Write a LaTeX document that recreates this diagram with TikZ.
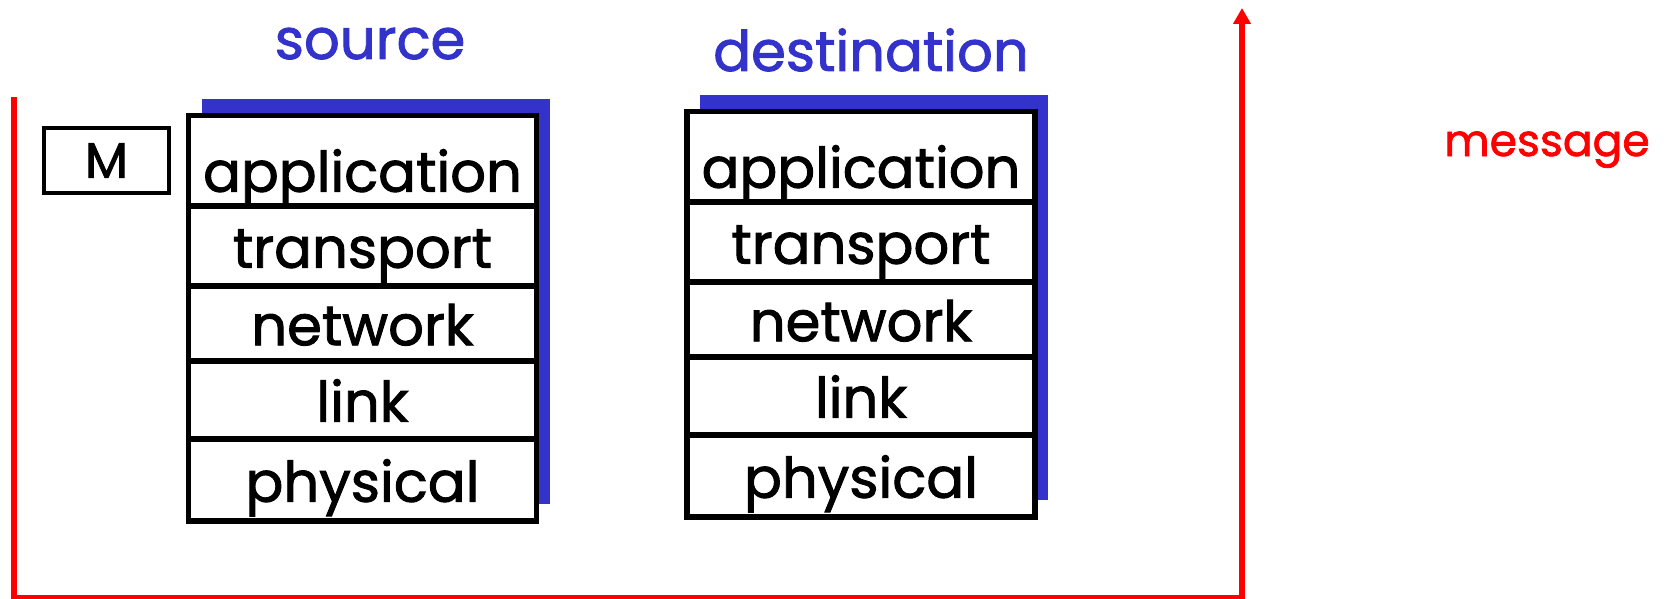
\documentclass[tikz,border=0pt]{standalone}
\usepackage{fontspec}
\newfontfamily\handfont[FakeBold=1.6]{Poppins}
\usepackage{tikz}
\usetikzlibrary{positioning, arrows.meta, fit, backgrounds}
\definecolor{stackblue}{RGB}{51,51,204}
\definecolor{msgred}{RGB}{255,0,0}
\tikzset{
    layer/.style={rectangle, draw=black, line width=5.5pt, fill=white, minimum width=348pt, minimum height=#1, inner sep=0pt, text height=58pt, text depth=14pt, font=\handfont\fontsize{56}{60}\selectfont},
    toplayer/.style={layer=#1, text height=76pt},
    shadowbox/.style={rectangle, fill=stackblue, inner sep=-2.75pt, xshift=13pt, yshift=17pt},
    title/.style={anchor=base, text=stackblue, font=\handfont\fontsize{56}{60}\selectfont},
    msgbox/.style={rectangle, draw=black, line width=3.5pt, minimum width=125pt, minimum height=65pt, inner sep=0pt, font=\handfont\fontsize{50}{54}\selectfont},
    msgline/.style={draw=msgred, line width=5.5pt, -{Triangle[length=16pt, width=17pt]}},
    msglabel/.style={anchor=base, text=msgred, font=\handfont\fontsize{44}{48}\selectfont}
}
\begin{document}
\begin{tikzpicture}[x=1pt, y=-1pt, node distance=-5.5pt]
    \useasboundingbox (0,0) rectangle (1664,599);

    % Message path
    \coordinate (msgStart) at (14,97);
    \coordinate (msgFloor) at (14,598);
    \coordinate (msgTop) at (1242,8);
    \draw[msgline] (msgStart) -- (msgFloor) -| (msgTop);
    \node[msglabel] (msgLabel) at (1547,156) {message};

    % Message M
    \node[msgbox] (msgM) at (106.5,160.5) {M};

    % Source stack
    \node[title] (srcTitle) at (370,59) {source};
    \node[toplayer=90pt] (srcApp) at (362.5,160.75) {application};
    \node[layer=80pt, below=of srcApp] (srcTrans) {transport};
    \node[layer=75pt, below=of srcTrans] (srcNet) {network};
    \node[layer=78pt, below=of srcNet] (srcLink) {link};
    \node[layer=82pt, below=of srcLink] (srcPhy) {physical};

    % Destination stack
    \node[title] (dstTitle) at (871,71) {destination};
    \node[toplayer=90pt] (dstApp) at (861,156.75) {application};
    \node[layer=80pt, below=of dstApp] (dstTrans) {transport};
    \node[layer=75pt, below=of dstTrans] (dstNet) {network};
    \node[layer=78pt, below=of dstNet] (dstLink) {link};
    \node[layer=82pt, below=of dstLink] (dstPhy) {physical};

    % Shadows
    \begin{scope}[on background layer]
        \node[shadowbox, fit=(srcApp)(srcPhy)] (srcShadow) {};
        \node[shadowbox, fit=(dstApp)(dstPhy)] (dstShadow) {};
    \end{scope}
\end{tikzpicture}
\end{document}
